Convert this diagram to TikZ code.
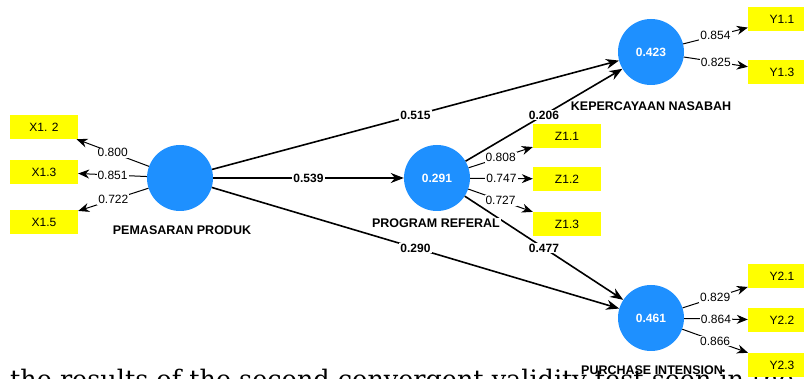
\documentclass[tikz,border=0pt]{standalone}
\usepackage{fontspec}
\setmainfont{Liberation Sans}
\newfontfamily\bodyserif{DejaVu Serif}
\usetikzlibrary{arrows.meta}
\definecolor{plsblue}{RGB}{30,144,255}
\definecolor{plsyellow}{RGB}{255,255,0}
\begin{document}
\begin{tikzpicture}[x=1pt,y=-1pt,
  latent/.style={circle, fill=plsblue, minimum size=66pt, inner sep=0pt, text=white,
    font=\bfseries\fontsize{12}{12}\selectfont},
  ind/.style={rectangle, fill=plsyellow, minimum width=68pt, minimum height=24pt, inner sep=0pt,
    font=\fontsize{12}{12}\selectfont},
  lname/.style={font=\bfseries\fontsize{12.5}{12.5}\selectfont, inner sep=1pt},
  loadarrow/.style={-{Stealth[length=11pt,width=9pt]}, line width=1pt},
  patharrow/.style={-{Stealth[length=13pt,width=10pt]}, line width=1.6pt},
  coef/.style={fill=white, inner sep=1pt, font=\bfseries\fontsize{12}{12}\selectfont},
  lcoef/.style={fill=white, inner sep=1pt, font=\fontsize{12}{12}\selectfont}]
\useasboundingbox (0,0) rectangle (804,379);
\fill[white] (0,0) rectangle (804,379);

% page text behind the figure
\node[anchor=base west, inner sep=0pt, font=\bodyserif\fontsize{25.5}{25.5}\selectfont] (body) at (10,389)
  {the results of the second convergent validity test seen in the};

% latent variables
\node[latent] (pp) at (180,178) {};
\node[latent] (pr) at (437,178) {0.291};
\node[latent] (kn) at (651,52) {0.423};
\node[latent] (pi) at (651,318) {0.461};

% indicators
\node[ind] (x12) at (44,127) {X1. 2};
\node[ind] (x13) at (44,172) {X1.3};
\node[ind] (x15) at (44,222) {X1.5};
\node[ind] (z11) at (567,136) {Z1.1};
\node[ind] (z12) at (567,179) {Z1.2};
\node[ind] (z13) at (567,224) {Z1.3};
\node[ind] (y11) at (782,19) {Y1.1};
\node[ind] (y13) at (782,72) {Y1.3};
\node[ind] (y21) at (782,276) {Y2.1};
\node[ind] (y22) at (782,320) {Y2.2};
\node[ind] (y23) at (782,365) {Y2.3};

% loadings
\draw[loadarrow] (pp) -- node[lcoef] {0.800} (x12);
\draw[loadarrow] (pp) -- node[lcoef] {0.851} (x13);
\draw[loadarrow] (pp) -- node[lcoef] {0.722} (x15);
\draw[loadarrow] (pr) -- node[lcoef] {0.808} (z11);
\draw[loadarrow] (pr) -- node[lcoef] {0.747} (z12);
\draw[loadarrow] (pr) -- node[lcoef] {0.727} (z13);
\draw[loadarrow] (kn) -- node[lcoef] {0.854} (y11);
\draw[loadarrow] (kn) -- node[lcoef] {0.825} (y13);
\draw[loadarrow] (pi) -- node[lcoef] {0.829} (y21);
\draw[loadarrow] (pi) -- node[lcoef] {0.864} (y22);
\draw[loadarrow] (pi) -- node[lcoef] {0.866} (y23);

% structural paths
\draw[patharrow] (pp) -- node[coef] {0.539} (pr);
\draw[patharrow] (pp) -- node[coef] {0.515} (kn);
\draw[patharrow] (pp) -- node[coef] {0.290} (pi);
\draw[patharrow] (pr) -- node[coef] {0.206} (kn);
\draw[patharrow] (pr) -- node[coef] {0.477} (pi);

% latent names
\node[lname] (ppname) at (182,230) {PEMASARAN PRODUK};
\node[lname, fill=white] (prname) at (436,223) {PROGRAM REFERAL};
\node[lname] (knname) at (651,106) {KEPERCAYAAN NASABAH};
\node[lname] (piname) at (652,370) {PURCHASE INTENSION};
\end{tikzpicture}
\end{document}
